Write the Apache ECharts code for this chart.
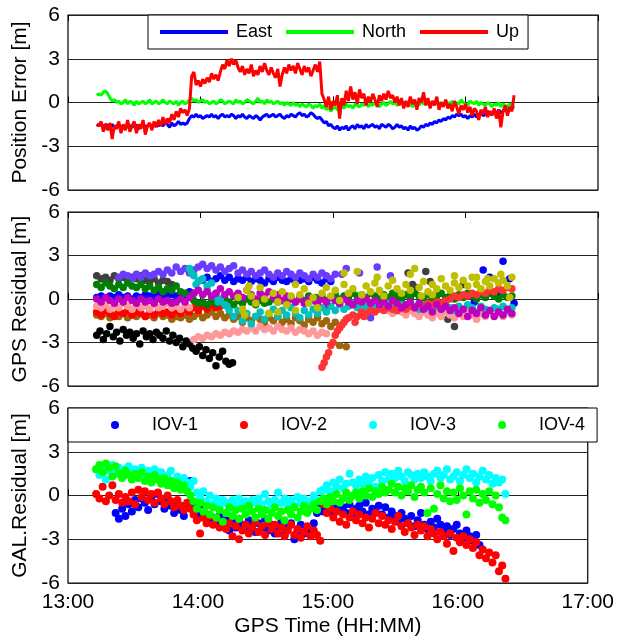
<!DOCTYPE html>
<html>
<head>
<meta charset="utf-8">
<script src="https://cdn.jsdelivr.net/npm/echarts@6/dist/echarts.min.js"></script>
<style>
html,body{margin:0;padding:0;background:#fff;}
#chart{width:617px;height:638px;}
</style>
</head>
<body>
<div id="chart"></div>
<script>
// ---------- axis / label data ----------
const HOUR0 = 13;                 // x axis starts at 13:00
const xMin = 13, xMax = 17, xInterval = 1;
const yMin = -6, yMax = 6, yInterval = 3;
const panelTitles = ['Position Error [m]', 'GPS Residual [m]', 'GAL.Residual [m]'];
const xTitle = 'GPS Time (HH:MM)';
const posNames = ['East', 'North', 'Up'];
const galNames = ['IOV-1', 'IOV-2', 'IOV-3', 'IOV-4'];

// ---------- Panel 1: position error (minutes after 13:00, 1-min step) ----------
const posStartMin = 13, posStepMin = 1;
const eastErr = [
-1.5,-1.6,-1.4,-1.7,-1.5,-1.6,-1.8,-1.5,-1.7,-1.6,
-1.5,-1.7,-1.6,-1.8,-1.5,-1.6,-1.7,-1.5,-1.6,-1.8,
-1.6,-1.5,-1.7,-1.6,-1.5,-1.7,-1.6,-1.4,-1.6,-1.5,
-1.6,-1.4,-1.5,-1.7,-1.4,-1.6,-1.5,-1.3,-1.5,-1.4,
-1.5,-1.4,-1.1,-0.9,-1.0,-0.8,-1.0,-0.9,-1.1,-1.0,
-0.9,-1.0,-0.8,-1.0,-0.9,-1.1,-0.9,-0.8,-1.0,-0.9,
-1.0,-0.8,-0.9,-1.1,-0.9,-1.0,-0.8,-1.0,-1.1,-0.9,
-1.0,-1.1,-0.9,-1.0,-1.2,-1.0,-0.9,-0.8,-1.0,-0.9,
-0.8,-1.0,-0.9,-0.8,-1.0,-1.1,-0.9,-1.0,-0.8,-0.9,
-1.0,-0.8,-0.7,-0.9,-0.8,-1.0,-0.9,-0.7,-0.8,-1.0,
-1.1,-1.0,-1.2,-1.4,-1.3,-1.6,-1.5,-1.7,-1.8,-1.6,
-1.9,-1.7,-1.8,-1.6,-1.9,-1.7,-1.6,-1.8,-1.5,-1.7,
-1.6,-1.8,-1.5,-1.7,-1.6,-1.5,-1.7,-1.6,-1.8,-1.5,
-1.6,-1.7,-1.5,-1.6,-1.8,-1.7,-1.5,-1.7,-1.6,-1.8,
-1.7,-1.9,-1.6,-1.8,-1.7,-1.9,-1.8,-1.6,-1.7,-1.5,
-1.6,-1.4,-1.5,-1.3,-1.4,-1.2,-1.3,-1.1,-1.2,-1.0,
-1.1,-0.9,-1.0,-0.8,-0.9,-0.8,-1.0,-0.9,-1.1,-0.9,
-1.0,-0.8,-1.0,-0.9,-0.7,-0.9,-0.8,-0.6,-0.8,-0.7,
-0.6,-0.8,-0.5,-0.7,-0.6,-0.4,-0.6,-0.5,-0.3,-0.4];
const northErr = [
0.5,0.6,0.5,0.7,0.8,0.6,0.3,0.1,0.2,0.0,
0.1,-0.1,0.0,0.2,-0.1,0.1,0.0,-0.2,0.1,-0.1,
0.0,0.1,-0.1,0.0,0.2,-0.1,0.0,0.1,-0.1,0.0,
0.2,0.0,-0.1,0.1,0.0,-0.1,0.1,-0.2,0.0,0.1,
-0.1,0.0,0.2,0.3,0.1,0.2,0.0,0.1,0.2,0.0,
0.1,-0.1,0.0,0.1,-0.1,0.0,0.2,0.1,-0.1,0.0,
0.1,0.0,-0.1,0.2,0.0,0.1,-0.1,0.0,0.2,0.1,
0.0,-0.1,0.1,0.3,0.0,0.1,-0.1,0.2,0.0,0.1,
-0.1,0.0,0.1,-0.1,0.0,-0.2,0.0,-0.1,-0.2,0.0,
-0.2,-0.1,-0.3,-0.1,-0.2,-0.3,-0.1,-0.2,-0.4,-0.2,
-0.3,-0.1,-0.4,-0.2,-0.5,-0.3,-0.6,-0.4,-0.3,-0.5,
-0.3,-0.2,-0.4,-0.1,-0.3,-0.2,-0.4,-0.1,-0.2,-0.3,
-0.1,-0.2,0.0,-0.3,-0.1,-0.2,0.0,-0.1,-0.3,-0.1,
0.0,-0.2,-0.1,0.1,-0.1,0.0,-0.2,-0.1,0.1,-0.1,
-0.2,0.0,-0.1,-0.3,-0.1,0.0,-0.2,0.1,-0.1,0.0,
-0.1,-0.2,0.0,-0.1,0.1,-0.1,0.0,-0.2,0.1,0.0,
-0.1,0.1,-0.2,0.0,-0.1,0.2,0.0,-0.1,-0.2,0.1,
0.0,-0.1,0.1,-0.2,0.0,-0.1,-0.2,0.0,-0.1,-0.3,
-0.1,-0.2,0.0,-0.3,-0.1,-0.2,-0.3,-0.1,-0.2,-0.3];
const upErr = [
-1.5,-1.6,-1.3,-2.0,-1.5,-1.9,-1.4,-2.5,-1.6,-1.8,
-1.3,-2.1,-1.5,-1.9,-1.2,-2.0,-1.6,-1.3,-2.1,-1.5,
-1.8,-1.2,-2.2,-1.6,-1.4,-1.9,-1.3,-1.7,-1.2,-1.6,
-1.0,-1.5,-1.1,-1.4,-0.8,-1.2,-0.6,-1.0,-0.4,-0.7,
-0.5,-0.9,-0.4,1.8,2.1,1.2,1.5,1.1,1.6,1.3,
1.7,1.4,2.0,1.6,1.9,1.5,2.1,2.6,2.3,2.9,
2.5,3.0,2.6,2.9,2.4,2.1,2.5,1.9,2.3,2.0,
2.6,1.8,2.2,1.9,2.5,2.1,2.7,2.2,1.9,2.4,
2.0,1.7,2.3,1.1,1.9,2.4,2.0,2.6,2.2,2.5,
2.0,2.7,2.3,1.9,2.5,2.1,2.4,1.8,2.2,2.6,
2.1,2.8,0.6,0.2,-0.3,0.4,-0.5,0.1,-0.2,0.5,
-1.1,0.3,-0.2,0.8,0.1,1.1,0.2,0.7,-0.1,0.9,
0.3,0.6,-0.2,0.4,0.0,0.6,0.2,-0.3,0.5,0.1,
0.6,0.2,0.8,0.3,0.5,0.0,0.4,-0.2,0.3,-0.4,
0.1,-0.3,0.4,-0.1,0.2,-0.5,0.3,0.0,0.7,-0.2,
0.3,-0.4,0.1,-0.2,0.4,-0.5,0.0,-0.3,0.2,-0.4,
-0.1,-0.6,0.1,-0.3,-0.8,-0.2,-0.5,-0.1,-0.7,-0.3,
-0.9,-0.4,-0.6,-1.2,-0.5,-0.8,-0.3,-1.0,-0.6,-0.9,
-0.4,-1.1,-0.5,-1.7,-0.6,-0.2,-0.9,-0.3,-0.6,0.5];

// ---------- Panel 2: GPS residuals, segments [startMin, stepMin, values] + extra [min, value] ----------
const gpsBlack = [[13,1.5,[
-2.5,-2.2,-2.8,-2.4,-1.9,-2.6,-2.3,-2.9,-2.1,-2.5,
-2.3,-2.7,-2.4,-3.1,-2.2,-2.6,-2.4,-2.8,-2.3,-2.5,
-2.7,-2.2,-2.9,-2.5,-3.0,-2.7,-3.3,-2.9,-3.1,-3.4,
-3.6,-3.3,-3.9,-3.5,-4.1,-3.7,-4.6,-4.0,-3.6,-4.3,
-4.5,-4.4]]];
const gpsGray = [[13,2,[1.6,1.4,1.5,1.3,1.6,1.4,1.5,1.2,1.5,1.4,1.6,1.3,1.2,1.4,1.1,1.3,1.2,1.0]]];
const gpsGrayExtra = [[108,-0.2],[112,0.1],[118,-0.5],[154,1.8],[156,1.0],[158,0.8],[162,1.9],[164,1.2],[172,-1.4],[175,-1.9],[179,1.0]];
const gpsBlue = [
 [13,2,[0.1,0.2,0.0,0.2,0.1,0.3,0.1,0.2,0.0,0.2,0.1,0.3,0.2,0.1,0.3,0.2,0.4,0.3,0.2,0.4,0.3,0.5,0.4]],
 [61,2,[1.3,1.5,1.2,1.4,1.6,1.3,1.5,1.2,1.4,1.3,1.5,1.2,1.4,1.3,1.1,1.4,1.2,1.5,1.3,1.2,1.4,1.1,1.3,1.4,1.2,1.5,1.3,1.1,1.4,1.2]]];
const gpsBlueExtra = [[188,2.0],[191,1.5],[197,2.6],[200,1.4],[202,-0.3],[178,-0.9],[152,0.3],[184,-0.2],[194,0.3]];
const gpsPurple = [[23,2,[
1.5,1.7,1.6,1.4,1.7,1.5,1.8,1.6,1.7,1.9,
1.7,2.0,1.8,2.2,1.9,2.1,1.8,2.0,2.2,2.4,
2.1,2.3,2.0,2.2,1.9,2.1,2.3,1.8,2.0,1.7,
1.9,1.6,1.8,2.0,1.7,1.5,1.8,1.6,1.9,1.7,
1.5,1.8,1.6,1.4,1.7,1.5,1.8,1.6,1.4,1.7]]];
const gpsPurpleExtra = [[124,1.7],[126,2.1],[132,1.8],[140,2.2],[137,-1.3],[146,1.6]];
const gpsBrown = [[13,2,[
-1.1,-1.2,-1.0,-1.3,-1.1,-1.2,-1.0,-1.3,-1.1,-1.2,
-1.0,-1.2,-1.1,-1.3,-1.0,-1.2,-1.1,-1.4,-1.2,-1.3,
-1.1,-1.4,-1.2,-1.0,-1.3,-1.1,-0.9,-1.2,-1.0,-1.3,
-1.1,-1.4,-1.2,-1.6,-1.3,-1.5,-1.2,-1.4,-1.7,-1.3,
-1.5,-1.2,-1.6,-1.4,-1.7,-1.3,-1.5,-1.8,-1.4,-1.6,
-1.3,-1.7,-1.5,-1.9,-1.6]]];
const gpsBrownExtra = [[123,-3.2],[126,-3.3]];
const gpsRed = [[13,2,[
-0.9,-1.1,-0.8,-1.0,-1.2,-0.9,-1.0,-0.8,-1.1,-0.9,
-1.0,-1.2,-0.9,-1.1,-0.8,-1.0,-0.9,-1.1,-0.8,-1.0,
-0.7,-0.9,-0.6,-0.8,-0.5,-0.7,-0.4,-0.6,-0.5]]];
const gpsPink = [
 [13,2,[-0.5,-0.6,-0.4,-0.7,-0.5,-0.6,-0.3,-0.5,-0.7,-0.4,-0.6,-0.5,-0.7,-0.4,-0.6,-0.5,-0.3,-0.6,-0.5,-0.7,-0.4,-0.6]],
 [57,2,[-2.8,-2.6,-2.7,-2.5,-2.6,-2.4,-2.5,-2.3,-2.4,-2.2,-2.3,-2.1,-2.2,-2.0,-2.2,-1.9,-2.1,-2.0,-2.2,-1.9,-2.1,-2.2,-2.0,-2.3,-2.1,-2.2,-2.4,-2.2,-2.5,-2.3,-2.4]],
 [145,2,[-0.8,-1.0,-0.7,-0.9,-1.1,-0.8,-1.0,-1.2,-0.9,-1.1,-1.3,-1.0,-1.2,-0.9,-1.1,-1.3,-1.0,-1.2,-0.9,-1.1,-1.4,-1.0,-1.2,-0.9,-1.1,-1.0,-1.2,-0.9,-1.1]]];
const gpsDkGreen = [[13,2,[
1.0,0.8,1.1,0.9,0.7,1.0,0.8,1.1,0.9,0.8,
1.0,0.7,0.9,0.6,0.8,0.5,0.7,0.6,0.9,0.5,
0.4,0.2,-0.1,-0.3,-0.2,-0.4,-0.1,-0.3,-0.2,0.0,
-0.2,-0.4,-0.1,-0.3,0.0,-0.2,-0.4,-0.1,-0.3,-0.2,
0.0,-0.2,-0.1,-0.3,0.1,-0.2,0.0,-0.1,0.2,-0.1,
0.0,0.2,-0.1,0.1,0.3,0.0,0.2,0.1,0.4,0.2,
0.3,0.1,0.4,0.2,0.0,0.3,0.1,0.4,0.2,0.0,
0.3,0.1,0.4,0.2,-0.1,0.3,0.0,0.2,0.4,0.1,
0.2,0.0,0.3,0.1,0.4,0.2,0.0,0.3,0.1,0.4,
0.2,0.0,0.3,0.1,0.2]]];
const gpsCyan = [[55,2,[
2.1,1.6,1.2,1.4,0.9,1.1,0.4,0.0,-0.4,-0.8,
-1.2,-0.8,-1.5,-1.0,-1.7,-1.2,-0.9,-1.4,-1.0,-0.7,
-1.2,-0.8,-1.1,-0.6,-1.0,-1.3,-0.8,-1.1,-0.7,-1.0,
-0.6,-0.9,-0.5,-0.8,-0.4,-0.7,-0.5,-0.3,-0.6,-0.4,
-0.5,-0.3,-0.6,-0.4,-0.7,-0.3,-0.5,-0.8,-0.4,-0.6,
-0.3,-0.5,-0.7,-0.4,-0.6,-0.8,-0.5,-0.7,-0.4,-0.6,
-0.8,-0.5,-0.7,-0.4,-0.6,-0.9,-0.5,-0.7,-0.8,-0.6,
-0.7,-0.5,-0.8,-0.6]]];
const gpsCyanExtra = [[56,1.8],[58,1.0],[60,1.3],[63,0.6],[66,0.2],[68,-0.2],[72,-0.5]];
const gpsRed2 = [[115,2,[
-4.7,-4.0,-3.2,-2.5,-2.0,-1.6,-1.3,-1.1,-1.2,-0.9,
-1.0,-0.8,-0.9,-0.7,-0.8,-0.6,-0.7,-0.8,-0.6,-0.7,
-0.5,-0.6,-0.4,-0.5,-0.3,-0.4,-0.2,-0.3,-0.1,0.0,
0.2,0.1,0.3,0.2,0.4,0.3,0.5,0.4,0.6,0.5,
0.7,0.6,0.8,0.7]]];
const gpsRed2Extra = [[116,-4.4],[118,-3.7],[120,-3.0],[122,-2.2],[124,-1.8],[126,-1.4],[130,-1.6],[134,-1.2]];
const gpsMagenta = [[13,2,[
0.0,-0.2,0.1,-0.1,-0.3,0.0,-0.2,0.1,-0.1,-0.3,
0.0,-0.2,-0.1,-0.3,0.0,-0.2,-0.1,-0.3,-0.2,0.0,
-0.2,0.1,0.4,0.6,0.3,0.5,0.2,0.4,0.7,0.3,
0.5,0.2,0.4,0.1,0.6,0.3,0.0,0.4,0.2,0.5,
0.1,0.3,-0.1,0.2,0.0,-0.2,0.1,-0.3,0.0,-0.1,
-0.3,0.0,-0.2,0.1,-0.1,-0.3,0.0,-0.2,-0.4,-0.1,
-0.2,0.0,-0.3,-0.1,-0.4,-0.2,-0.5,-0.1,-0.3,-0.6,
-0.4,-0.2,-0.6,-0.3,-0.7,-0.5,-0.9,-0.4,-0.7,-0.5,
-0.8,-0.6,-1.0,-0.7,-1.2,-0.8,-1.0,-0.6,-1.1,-0.8,
-1.2,-0.9,-1.1,-0.7,-1.0]]];
const gpsOlive = [[77,2,[
0.1,-0.7,0.6,0.2,-0.3,0.8,0.0,-1.0,0.4,-0.2,
0.5,-0.4,0.2,-0.8,0.3,0.7,-0.3,0.1,-0.6,0.4,
0.8,0.2,0.6,-0.1,1.0,0.4,0.7,1.9,0.3,0.9,
0.5,1.1,0.6,0.2,0.9,1.3,0.7,0.4,1.0,0.6,
2.1,0.8,1.2,0.5,1.0,0.7,1.4,0.9,0.6,1.1,
0.8,1.3,0.9,1.5,1.0,0.7,1.2,0.9,1.4,1.1,
1.3,0.9,1.5]]];
const gpsOliveExtra = [[80,-1.1],[82,0.9],[95,-0.9],[103,1.0],[125,1.8],[140,1.5],[155,1.7],[160,0.2],[165,0.3],[175,1.6],[185,1.5],[190,1.4],[196,1.7],[200,0.1]];

// ---------- Panel 3: Galileo residuals ----------
const iov1 = [[22,1.5,[
-1.2,-1.6,-0.9,-1.4,-0.6,-1.1,-0.3,-0.8,-0.2,-0.5,
-1.0,-0.1,-0.6,0.1,-0.4,-0.9,-0.2,-0.7,-1.2,-0.5,
-1.0,-1.4,-0.8,1.0,-0.7,-1.1,-1.5,-0.9,-1.3,-1.7,
-1.5,-1.9,-1.4,-2.1,-1.7,-2.4,-1.8,-2.2,-1.6,-2.0,
-2.3,-1.7,-2.1,-2.5,-1.9,-2.2,-1.6,-2.4,-2.0,-2.6,
-2.1,-1.8,-2.7,-2.2,-1.9,-3.0,-2.4,-2.0,-2.6,-2.2,
-2.5,-1.9,-1.2,-0.7,-1.1,-0.5,-0.9,-1.3,-0.6,-1.0,
-0.8,-1.2,-0.6,-1.4,-0.9,-0.7,-1.1,-0.5,-1.3,-0.9,
-1.0,-0.7,-1.3,-0.8,-1.5,-1.1,-1.4,-1.8,-1.2,-1.6,
-1.9,-1.4,-2.1,-1.7,-1.2,-2.0,-2.3,-1.8,-2.2,-1.6,
-2.0,-2.4,-2.1,-2.7,-2.3,-2.0,-2.6,-2.9,-2.4,-2.8,
-3.1,-2.7,-3.4]]];
const iov2 = [[13,1.5,[
0.1,-0.2,0.6,-0.4,0.0,0.7,-0.3,0.1,-0.5,-0.1,
-0.4,0.2,-0.6,0.4,-0.1,0.3,-0.3,0.1,-0.5,0.2,
-0.2,-0.6,0.0,-0.4,-0.8,-0.3,-0.7,-1.0,-0.5,-0.9,
-1.3,-1.7,-2.6,-1.5,-1.9,-1.4,-2.0,-1.6,-2.2,-1.8,
-2.3,-1.9,-2.8,-2.1,-3.0,-2.4,-2.0,-2.6,-2.2,-1.8,
-2.5,-2.1,-2.7,-1.9,-2.3,-2.0,-2.6,-2.2,-2.8,-2.4,
-2.0,-2.7,-2.3,-2.9,-2.5,-2.1,-2.8,-2.4,-2.7,-3.1,
-0.6,-1.2,-0.9,-1.5,-1.1,-1.8,-1.3,-2.0,-1.5,-1.1,
-1.7,-1.3,-1.9,-1.5,-2.2,-1.6,-1.2,-1.9,-1.4,-2.0,
-1.7,-2.3,-1.8,-1.4,-2.1,-2.5,-1.9,-2.2,-2.7,-2.0,
-2.4,-2.1,-2.8,-2.3,-2.6,-3.0,-2.5,-2.8,-3.3,-2.6,
-3.8,-2.9,-3.2,-2.8,-3.4,-3.0,-3.6,-3.2,-4.1,-3.7,
-4.3,-3.9,-4.6,-4.1,-5.2,-4.8,-5.7]]];
const iov3 = [[13,1.5,[
1.8,1.4,2.0,1.1,1.7,2.1,1.5,1.9,1.4,1.8,
2.0,1.6,1.8,1.3,1.9,1.5,1.7,1.2,1.8,1.4,
1.6,1.1,1.4,1.7,1.0,1.3,0.8,1.2,0.9,0.6,
1.0,0.2,-0.1,0.3,-0.4,0.0,-0.6,-0.2,-0.7,-0.3,
-0.5,-0.9,-0.3,-0.7,-0.2,-0.6,-0.4,-0.8,-0.3,-0.5,
-0.2,-0.6,0.1,-0.4,-0.7,-0.3,0.2,-0.5,-0.2,-0.6,
-0.3,-0.7,-0.1,-0.5,-0.2,-0.6,-0.4,0.0,-0.3,0.3,
0.4,0.7,0.3,0.9,0.6,1.1,0.5,0.8,1.5,0.9,
0.7,1.1,0.8,1.3,0.9,1.2,0.6,1.4,1.0,1.6,
1.1,1.5,1.2,1.7,1.3,1.0,1.6,1.4,1.1,1.5,
1.2,1.6,1.3,1.0,1.5,1.7,1.2,1.4,1.8,1.1,
1.3,1.6,1.0,1.4,1.8,1.2,1.5,0.9,1.3,1.7,
1.1,1.4,0.8,1.2,0.9,1.1,0.1]]];
const iov4 = [[13,1.5,[
1.8,2.1,1.6,2.2,1.9,1.3,2.0,1.5,1.2,1.7,
1.4,1.1,1.5,1.2,1.6,1.0,1.3,0.9,1.4,1.1,
0.8,1.2,0.7,1.0,0.5,0.9,0.4,0.7,0.3,0.0,
-0.4,-0.9,-0.5,-1.1,-0.7,-1.3,-0.8,-1.5,-1.0,-1.8,
-1.2,-0.8,-1.4,-1.0,-1.6,-0.9,-1.3,-0.7,-1.1,-1.5,
-0.9,-1.3,-1.0,-1.6,-1.2,-0.8,-1.4,-1.1,-1.7,-1.0,
-1.3,-0.8,-1.5,-1.1,-0.7,-1.2,-0.9,-0.6,-1.0,-0.4,
-0.2,-0.6,-0.1,-0.4,0.1,-0.5,-0.2,0.2,-0.3,0.0,
0.2,-0.2,0.3,0.0,0.5,-0.1,0.3,0.1,0.6,0.2,
0.4,0.8,0.2,0.6,0.0,0.5,0.3,0.7,-0.1,0.4,
0.6,0.2,-1.2,0.5,-0.9,0.1,0.7,-0.2,0.3,-0.4,
0.2,-0.3,0.5,0.0,-1.3,0.3,-0.2,0.4,-0.5,0.1,
-0.3,0.3,-0.6,0.0,-0.8,-1.5,-1.7]]];

// ---------- helpers ----------
function fromSegs(segs, extra) {
  const out = [];
  segs.forEach(([start, step, vals]) => vals.forEach((v, i) => out.push([HOUR0 + (start + i * step) / 60, v])));
  (extra || []).forEach(([m, v]) => out.push([HOUR0 + m / 60, v]));
  return out;
}
function lineData(vals) { return vals.map((v, i) => [HOUR0 + (posStartMin + i * posStepMin) / 60, v]); }
function hhmm(v) { const h = Math.floor(v + 1e-9); const m = Math.round((v - h) * 60); return h + ':' + String(m).padStart(2, '0'); }

const FONT = '"Liberation Sans", Arial, Helvetica, sans-serif';
const FS = 21;
const grids = [
  { left: 68, right: 19, top: 15, height: 175 },
  { left: 68, right: 19, top: 212, height: 174 },
  { left: 68, right: 19, top: 408, height: 175 }
].map(g => Object.assign(g, { show: true, borderColor: '#000', borderWidth: 1.2, backgroundColor: 'transparent' }));

const xAxes = [];
[0, 1, 2].forEach(i => {
  xAxes.push({
    type: 'value', gridIndex: i, min: xMin, max: xMax, interval: xInterval, position: 'bottom',
    axisLine: { show: false }, splitLine: { show: false },
    axisTick: { show: true, inside: true, length: 6, lineStyle: { color: '#000', width: 1 } },
    axisLabel: { show: i === 2, fontSize: FS, color: '#000', margin: 9, formatter: hhmm, fontFamily: FONT },
    name: i === 2 ? xTitle : '', nameLocation: 'middle', nameGap: 33,
    nameTextStyle: { fontSize: FS, color: '#000', fontFamily: FONT }
  });
});
[0, 1, 2].forEach(i => {
  xAxes.push({
    type: 'value', gridIndex: i, min: xMin, max: xMax, interval: xInterval, position: 'top',
    axisLine: { show: false }, splitLine: { show: false }, axisLabel: { show: false },
    axisTick: { show: true, inside: true, length: 6, lineStyle: { color: '#000', width: 1 } }
  });
});
const yAxes = [0, 1, 2].map(i => ({
  type: 'value', gridIndex: i, min: yMin, max: yMax, interval: yInterval,
  axisLine: { show: false }, axisTick: { show: false },
  splitLine: { show: true, lineStyle: { color: '#222', width: 1 } },
  axisLabel: { fontSize: FS, color: '#000', margin: 8, fontFamily: FONT },
  name: panelTitles[i], nameLocation: 'middle', nameGap: 34,
  nameTextStyle: { fontSize: FS, color: '#000', fontFamily: FONT }
}));

const series = [];
const lineColors = ['#0000ff', '#00ff00', '#ff0000'];
[eastErr, northErr, upErr].forEach((vals, i) => {
  series.push({ name: posNames[i], type: 'line', xAxisIndex: 0, yAxisIndex: 0, data: lineData(vals),
    showSymbol: false, symbol: 'none', color: lineColors[i], lineStyle: { width: 3, color: lineColors[i] } });
});
const gpsList = [
  ['g-black', '#000000', gpsBlack, null],
  ['g-gray', '#404040', gpsGray, gpsGrayExtra],
  ['g-blue', '#0000ff', gpsBlue, gpsBlueExtra],
  ['g-purple', '#6a3cff', gpsPurple, gpsPurpleExtra],
  ['g-brown', '#a0640a', gpsBrown, gpsBrownExtra],
  ['g-red', '#ff0000', gpsRed, null],
  ['g-pink', '#ff9999', gpsPink, null],
  ['g-dkgreen', '#008000', gpsDkGreen, null],
  ['g-cyan', '#00bfbf', gpsCyan, gpsCyanExtra],
  ['g-red2', '#ff3333', gpsRed2, gpsRed2Extra],
  ['g-magenta', '#bf00bf', gpsMagenta, null],
  ['g-olive', '#bfbf00', gpsOlive, gpsOliveExtra]
];
gpsList.forEach(([n, c, segs, ex]) => {
  series.push({ name: n, type: 'scatter', xAxisIndex: 1, yAxisIndex: 1, data: fromSegs(segs, ex),
    symbolSize: 7.5, itemStyle: { color: c, opacity: 1 } });
});
const galColors = ['#0000ff', '#ff0000', '#00ffff', '#00ff00'];
[iov1, iov2, iov3, iov4].forEach((segs, i) => {
  series.push({ name: galNames[i], type: 'scatter', xAxisIndex: 2, yAxisIndex: 2, data: fromSegs(segs),
    symbolSize: 8, color: galColors[i], itemStyle: { color: galColors[i], opacity: 1 } });
});

const chart = echarts.init(document.getElementById('chart'), null, { renderer: 'canvas' });
chart.setOption({
  animation: false,
  backgroundColor: '#fff',
  textStyle: { fontFamily: FONT },
  grid: grids,
  xAxis: xAxes,
  yAxis: yAxes,
  legend: [
    { data: posNames, left: 148, top: 15, orient: 'horizontal', icon: 'rect', itemWidth: 68, itemHeight: 4,
      itemGap: 14, padding: [8, 9, 8, 12], backgroundColor: '#fff', borderColor: '#000', borderWidth: 1,
      textStyle: { fontSize: 18, color: '#000', fontFamily: FONT, padding: [0, 0, 0, 3] }, selectedMode: false },
    { data: galNames, left: 68, top: 408, orient: 'horizontal', icon: 'circle', itemWidth: 64, itemHeight: 8,
      itemGap: 42, padding: [8, 12, 8, 43], backgroundColor: '#fff', borderColor: '#000', borderWidth: 1,
      textStyle: { fontSize: 18, color: '#000', fontFamily: FONT }, selectedMode: false }
  ],
  series: series
});
</script>
</body>
</html>
